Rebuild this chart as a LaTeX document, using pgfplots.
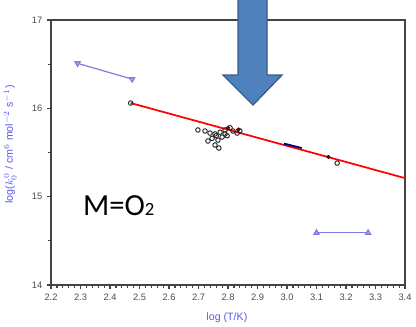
\documentclass[border=0pt]{standalone}
\usepackage{pgfplots}
\pgfplotsset{compat=1.18}
\usepackage{fontspec}
\setmainfont{Liberation Sans}
\newfontfamily\calfont{Carlito}
\definecolor{lav}{HTML}{7B7BE0}
\definecolor{lblue}{HTML}{5A5AF0}
\definecolor{arrfill}{HTML}{4F81BD}
\definecolor{arrline}{HTML}{385D8A}
\definecolor{axgray}{HTML}{444444}
\begin{document}
\begin{tikzpicture}
\useasboundingbox (-38.25pt,-31.5pt) rectangle (273.75pt,213.75pt);
\begin{axis}[
  at={(0,0)}, anchor=south west,
  scale only axis, width=265.5pt, height=198.75pt,
  xmin=2.2, xmax=3.4, ymin=14, ymax=17,
  clip=false,
  axis line style={axgray, line width=1.8pt},
  xtick={2.2,2.3,...,3.41},
  xticklabels={2.2,2.3,2.4,2.5,2.6,2.7,2.8,2.9,3.0,3.1,3.2,3.3,3.4},
  ytick={14,15,16,17},
  minor x tick num=4, minor y tick num=1,
  tick align=outside, tickpos=left,
  major tick length=3pt, minor tick length=2pt,
  every tick/.style={axgray, line width=0.9pt},
  tick label style={font=\fontsize{7}{8}\selectfont, text=gray!60!black},
  /pgf/number format/assume math mode=true,
  xlabel={log (T/K)},
  ylabel={log($k_0^{\,0}$ / cm$^6$ mol$^{-2}$ s$^{-1}$)},
  label style={font=\fontsize{8}{9}\selectfont, text=lblue},
  xlabel style={at={(axis description cs:0.497,-0.125)}, anchor=center},
  ylabel style={at={(axis description cs:-0.115,0.53)}, anchor=center},
]
% red fit line
\addplot[red, line width=1.3pt, no marks] coordinates {(2.47,16.06) (3.4,15.21)};
% upper-left blue series
\addplot[lav, line width=0.9pt, mark=triangle*, mark options={fill=lav!60, draw=lav, rotate=180}, mark size=2.2pt]
  coordinates {(2.29,16.51) (2.475,16.33)};
% lower-right blue series
\addplot[lav, line width=0.9pt, mark=triangle*, mark options={fill=lav!60, draw=lav}, mark size=2.2pt]
  coordinates {(3.10,14.59) (3.275,14.59)};
% open circles cluster
\addplot[only marks, mark=o, mark size=1.7pt, mark options={black!85, line width=0.7pt}]
  coordinates {
  (2.47,16.06)
  (2.698,15.755) (2.722,15.743) (2.739,15.72) (2.756,15.71) (2.773,15.73)
  (2.790,15.755) (2.807,15.78) (2.817,15.743) (2.746,15.66) (2.766,15.64)
  (2.780,15.675) (2.732,15.63) (2.756,15.585) (2.769,15.55) (2.797,15.69)
  (2.831,15.72) (2.84,15.745) (2.76,15.69) (2.79,15.71)
  (3.17,15.38)};
% dark red points near line
\addplot[only marks, mark=*, mark size=1.4pt, mark options={fill=red!55!black, draw=red!40!black}]
  coordinates {(2.80,15.78) (2.835,15.76)};
% navy short segment
\addplot[blue!50!black, line width=1.4pt, no marks] coordinates {(2.99,15.60) (3.05,15.55)};
\addplot[only marks, mark=*, mark size=1.3pt, mark options={fill=black!80, draw=black}]
  coordinates {(3.14,15.45)};
% annotation text
\node[anchor=base west, inner sep=0pt, font=\calfont\fontsize{23}{24}\selectfont] at (axis cs:2.308,14.79) {M=O{\fontsize{14}{15}\selectfont 2}};
% big arrow
\filldraw[fill=arrfill, draw=arrline, line width=1pt]
  (axis cs:2.8339,17.25) -- (axis cs:2.9322,17.25) -- (axis cs:2.9322,16.3773)
  -- (axis cs:2.9831,16.3773) -- (axis cs:2.8847,16.0377) -- (axis cs:2.7831,16.3773)
  -- (axis cs:2.8339,16.3773) -- cycle;
\end{axis}
\end{tikzpicture}
\end{document}
